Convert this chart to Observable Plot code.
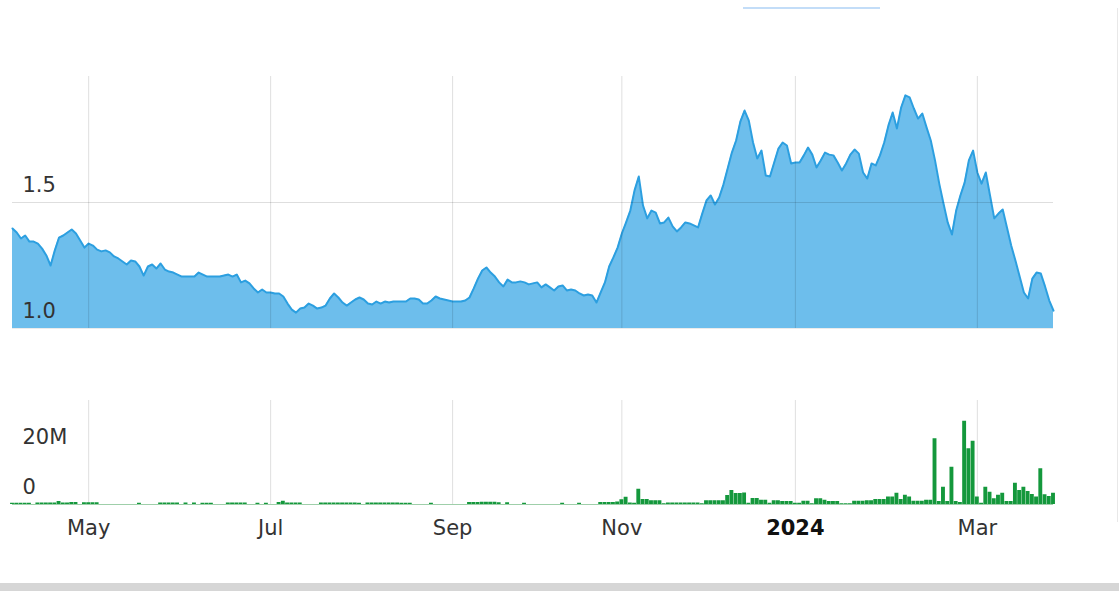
<!DOCTYPE html>
<html>
<head>
<meta charset="utf-8">
<script src="https://cdn.jsdelivr.net/npm/d3@7"></script>
<script src="https://cdn.jsdelivr.net/npm/@observablehq/plot@0.6"></script>
<style>
  html, body { margin: 0; padding: 0; background: #fff; }
  #wrap { position: relative; width: 1119px; height: 591px; overflow: hidden; font-family: "DejaVu Sans", Verdana, sans-serif; }
  #price { position: absolute; left: 0; top: 0; }
  #vol { position: absolute; left: 0; top: 340px; }
  #nav { position: absolute; left: 743px; top: 7px; width: 137px; height: 2px; background: #c3ddf8; }
  #edge { position: absolute; left: 1117px; top: 8px; width: 1px; height: 514px; background: #e8e8e8; }
  #scroll { position: absolute; left: 0; top: 583px; width: 1119px; height: 8px; background: #d6d6d6; }
</style>
</head>
<body>
<div id="wrap">
  <div id="nav"></div>
  <div id="price"></div>
  <div id="vol"></div>
  <div id="edge"></div>
  <div id="scroll"></div>
</div>
<script>
// Trading-day series, split by the two-month blocks between labelled axis ticks
const priceApr   = [1.397,1.381,1.357,1.369,1.345,1.345,1.337,1.317,1.290,1.250,1.310,1.361,1.369,1.381,1.393,1.377,1.349,1.321];
const priceMayJun = [1.337,1.329,1.313,1.306,1.310,1.302,1.286,1.278,1.266,1.254,1.270,1.266,1.246,1.210,1.246,1.254,1.238,1.258,1.234,1.226,1.222,1.214,1.206,1.206,1.206,1.206,1.222,1.214,1.206,1.206,1.206,1.206,1.210,1.214,1.206,1.214,1.183,1.190,1.179,1.159,1.143,1.155,1.143];
const priceJulAug = [1.143,1.139,1.139,1.127,1.099,1.075,1.063,1.079,1.083,1.099,1.091,1.079,1.083,1.091,1.119,1.139,1.123,1.103,1.091,1.103,1.115,1.123,1.115,1.099,1.095,1.107,1.099,1.107,1.103,1.107,1.107,1.107,1.107,1.119,1.119,1.115,1.099,1.099,1.111,1.127,1.119,1.115,1.111];
const priceSepOct = [1.107,1.107,1.107,1.111,1.123,1.159,1.198,1.230,1.242,1.222,1.206,1.183,1.167,1.194,1.183,1.183,1.187,1.183,1.175,1.179,1.183,1.163,1.175,1.163,1.151,1.167,1.171,1.151,1.155,1.151,1.139,1.131,1.135,1.131,1.103,1.143,1.183,1.246,1.282,1.321];
const priceNovDec = [1.377,1.421,1.468,1.548,1.603,1.488,1.437,1.468,1.460,1.417,1.421,1.440,1.405,1.385,1.401,1.421,1.417,1.409,1.401,1.456,1.508,1.528,1.492,1.520,1.571,1.635,1.698,1.746,1.821,1.865,1.825,1.738,1.675,1.706,1.607,1.603,1.659,1.714,1.738,1.726,1.655];
const priceJanFeb = [1.659,1.659,1.687,1.718,1.690,1.639,1.667,1.698,1.690,1.687,1.659,1.627,1.655,1.690,1.710,1.694,1.619,1.595,1.655,1.647,1.687,1.738,1.806,1.857,1.794,1.877,1.925,1.917,1.873,1.833,1.853,1.798,1.746,1.667,1.575,1.496,1.421,1.373,1.468,1.528,1.579,1.667,1.706];
const priceMar    = [1.619,1.575,1.619,1.528,1.437,1.456,1.472,1.401,1.329,1.270,1.206,1.143,1.119,1.198,1.222,1.218,1.167,1.111,1.071];

// Volume in millions of shares, same trading days
const volApr    = [0.5,0.5,0.5,0.5,0.5,0,0.6,0.6,0.6,0.6,0.6,1.2,0.6,0.6,0.8,0.8,0,0.7];
const volMayJun = [0.7,0.7,0.7,0,0,0,0,0,0,0,0,0,0.5,0,0,0,0,0.6,0.6,0.6,0.6,0.6,0,0.6,0,0.6,0,0.5,0.5,0.5,0,0,0,0.6,0.6,0.6,0.6,0.6,0,0,0.5,0,0.5];
const volJulAug = [0,0,0.8,1.3,0.6,0.6,0.6,0.6,0,0,0,0,0.6,0.6,0.6,0.6,0.6,0.6,0.6,0.6,0.6,0.5,0,0.6,0.6,0.6,0.6,0.6,0.6,0.6,0.6,0.5,0.5,0.5,0,0,0,0,0.5,0,0,0,0];
const volSepOct = [0,0,0,0,0.8,0.8,0.8,0.9,0.9,0.9,0.9,0.7,0,0.7,0,0,0,0.5,0,0,0,0,0,0,0,0,0.5,0,0,0,0.5,0,0,0,0,0.8,0.8,0.8,0.8,1.0];
const volNovDec = [1.9,2.9,0.6,0.5,6.1,2,2,1.5,1.5,1.5,0.3,0.6,0.6,0.6,0.6,0.6,0.6,0.6,0.6,0.3,1.5,1.5,1.5,1.5,1.5,3.6,5.6,4.4,4.4,4.6,0.5,2.4,2.4,1.7,1.7,0.5,1.5,1.5,1.2,1.2,1.2];
const volJanFeb = [0.5,0.5,1.3,1.3,0.3,2.3,2.3,1.7,1.2,1.2,1.2,0.3,0.3,0.3,1.3,1.3,1.3,1.5,1.5,2,2,2,3,3,4.5,2,3.7,3,1.3,1.3,1.3,1.7,1.7,26.3,1.2,6.9,1.2,14.9,1.2,0.8,33.3,22.3,25.3];
const volMar    = [3,0.5,6.9,4.9,2.3,3.7,4.5,1.2,1.2,8.5,5.6,6.9,5.2,4,3,14.3,3.9,3.2,4.5];

// Axis labels: each labels the first trading day of the block that follows
const tickLabels = ["May", "Jul", "Sep", "Nov", "2024", "Mar"];
const yearLabel = "2024";
const priceTicks = [1.0, 1.5];
const volTicks = [0, 20];
const volTickLabels = ["0", "20M"];

const priceBlocks = [priceApr, priceMayJun, priceJulAug, priceSepOct, priceNovDec, priceJanFeb, priceMar];
const volBlocks = [volApr, volMayJun, volJulAug, volSepOct, volNovDec, volJanFeb, volMar];

const price = priceBlocks.flat();
const vol = volBlocks.flat();
const data = price.map((p, i) => ({i, price: p, vol: vol[i]}));

// tick index = start of each block after the first
const ticks = [];
let acc = 0;
priceBlocks.forEach((b, k) => {
  if (k > 0) ticks.push({i: acc, label: tickLabels[k - 1]});
  acc += b.length;
});
const n = price.length;

const W = 1119;
const xScale = {domain: [0, n - 1], axis: null};
const ML = 12, MR = 66;
const gridStroke = "#000";
const gridOpacity = 0.13;
const font = "DejaVu Sans, Verdana, sans-serif";

const pricePlot = Plot.plot({
  width: W, height: 340,
  marginTop: 76, marginBottom: 12, marginLeft: ML, marginRight: MR,
  style: {fontFamily: font, background: "transparent", overflow: "visible"},
  x: xScale,
  y: {domain: [1, 2], axis: null},
  marks: [
    Plot.areaY(data, {x: "i", y1: 1, y2: "price", fill: "#6dbeec", curve: "linear"}),
    Plot.lineY(data, {x: "i", y: "price", stroke: "#2c9fe0", strokeWidth: 2, curve: "linear"}),
    Plot.ruleX(ticks, {x: "i", stroke: gridStroke, strokeOpacity: gridOpacity}),
    Plot.ruleY([1.5], {stroke: gridStroke, strokeOpacity: gridOpacity}),
    Plot.ruleY([1.0], {stroke: gridStroke, strokeOpacity: 0.08}),
    Plot.text(priceTicks, {y: d => d, text: d => d.toFixed(1), frameAnchor: "left", textAnchor: "start",
      dx: 10, dy: -17, fontSize: 21, fill: "#333"})
  ]
});
document.getElementById("price").appendChild(pricePlot);

const volPlot = Plot.plot({
  width: W, height: 210,
  marginTop: 60, marginBottom: 46, marginLeft: ML, marginRight: MR,
  style: {fontFamily: font, background: "transparent", overflow: "visible"},
  x: xScale,
  y: {domain: [0, 41.6], axis: null},
  marks: [
    Plot.ruleX(ticks, {x: "i", stroke: gridStroke, strokeOpacity: gridOpacity}),
    Plot.ruleY([0], {stroke: "#9fcfaa", strokeWidth: 1}),
    Plot.rectY(data.filter(d => d.vol > 0), {x1: d => d.i - 0.46, x2: d => d.i + 0.46, y: "vol", fill: "#14983c"}),
    Plot.text(volTicks, {y: d => d, text: (d, k) => volTickLabels[k], frameAnchor: "left", textAnchor: "start",
      dx: 10, dy: -17, fontSize: 21, fill: "#333"}),
    Plot.text(ticks.filter(t => t.label !== yearLabel), {x: "i", text: "label", frameAnchor: "bottom",
      dy: 30, fontSize: 21, fill: "#333"}),
    Plot.text(ticks.filter(t => t.label === yearLabel), {x: "i", text: "label", frameAnchor: "bottom",
      dy: 30, fontSize: 21, fontWeight: "bold", fill: "#111"})
  ]
});
document.getElementById("vol").appendChild(volPlot);
</script>
</body>
</html>
